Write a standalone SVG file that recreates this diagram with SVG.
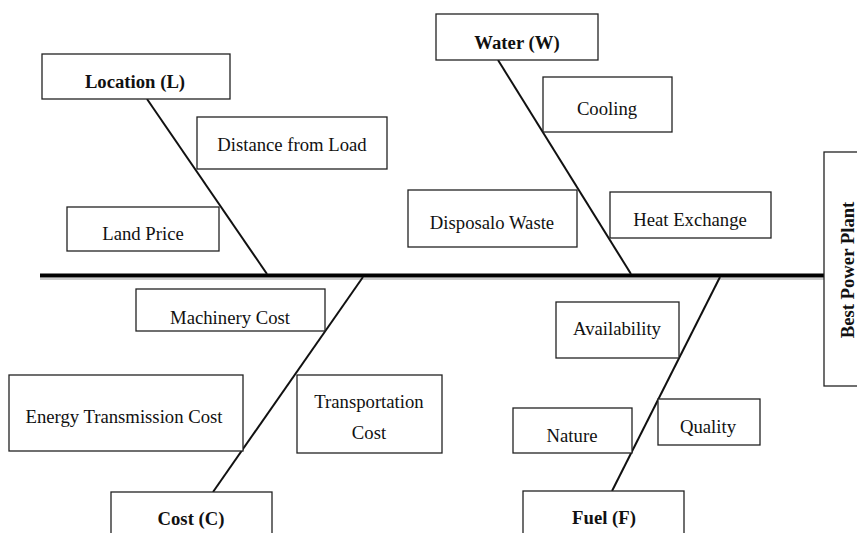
<svg xmlns="http://www.w3.org/2000/svg" width="857" height="533" viewBox="0 0 857 533">
<style>
.box{fill:#fff;stroke:#222;stroke-width:1.3}
.t{font-family:"Liberation Serif","Times New Roman",serif;font-size:18.7px;fill:#111;text-anchor:middle}
.b{font-weight:bold}
.bone{stroke:#111;stroke-width:2;fill:none}
</style>
<rect width="857" height="533" fill="#fff"/>
<g id="connectors">
<line x1="40" y1="279" x2="824" y2="279" stroke="#ccc" stroke-width="2"/>
<line x1="40" y1="275.5" x2="824" y2="275.5" stroke="#000" stroke-width="4"/>
<line class="bone" x1="147" y1="99" x2="267" y2="274"/>
<line class="bone" x1="498" y1="60" x2="631" y2="274"/>
<line class="bone" x1="363" y1="277" x2="213" y2="492"/>
<line class="bone" x1="720" y1="277" x2="612" y2="491"/>
</g>
<g id="location"><rect class="box" x="42" y="54" width="188" height="45"/><text class="t b" x="135" y="88">Location (L)</text></g>
<g id="distance"><rect class="box" x="197" y="117" width="190" height="52"/><text class="t" x="292" y="151">Distance from Load</text></g>
<g id="landprice"><rect class="box" x="67" y="207" width="152" height="44"/><text class="t" x="143" y="240">Land Price</text></g>
<g id="water"><rect class="box" x="436" y="14" width="162" height="46"/><text class="t b" x="517" y="49">Water (W)</text></g>
<g id="cooling"><rect class="box" x="543" y="77" width="129" height="55"/><text class="t" x="607" y="115">Cooling</text></g>
<g id="disposal"><rect class="box" x="408" y="190" width="169" height="57"/><text class="t" x="492" y="229">Disposalo Waste</text></g>
<g id="heat"><rect class="box" x="610" y="192" width="161" height="46"/><text class="t" x="690" y="226">Heat Exchange</text></g>
<g id="best"><rect class="box" x="824" y="152" width="40" height="234"/><text class="t b" transform="translate(854,270) rotate(-90)">Best Power Plant</text></g>
<g id="machinery"><rect class="box" x="136" y="289" width="189" height="42"/><text class="t" x="230" y="324">Machinery Cost</text></g>
<g id="energy"><rect class="box" x="9" y="375" width="234" height="76"/><text class="t" x="124" y="423">Energy Transmission Cost</text></g>
<g id="transport"><rect class="box" x="297" y="375" width="145" height="78"/><text class="t" x="369" y="408">Transportation</text><text class="t" x="369" y="439">Cost</text></g>
<g id="cost"><rect class="box" x="111" y="492" width="161" height="50"/><text class="t b" x="191" y="525">Cost (C)</text></g>
<g id="availability"><rect class="box" x="556" y="302" width="123" height="56"/><text class="t" x="617" y="335">Availability</text></g>
<g id="nature"><rect class="box" x="513" y="408" width="119" height="45"/><text class="t" x="572" y="442">Nature</text></g>
<g id="quality"><rect class="box" x="658" y="399" width="102" height="46"/><text class="t" x="708" y="433">Quality</text></g>
<g id="fuel"><rect class="box" x="523" y="491" width="161" height="50"/><text class="t b" x="604" y="524">Fuel (F)</text></g>
</svg>
